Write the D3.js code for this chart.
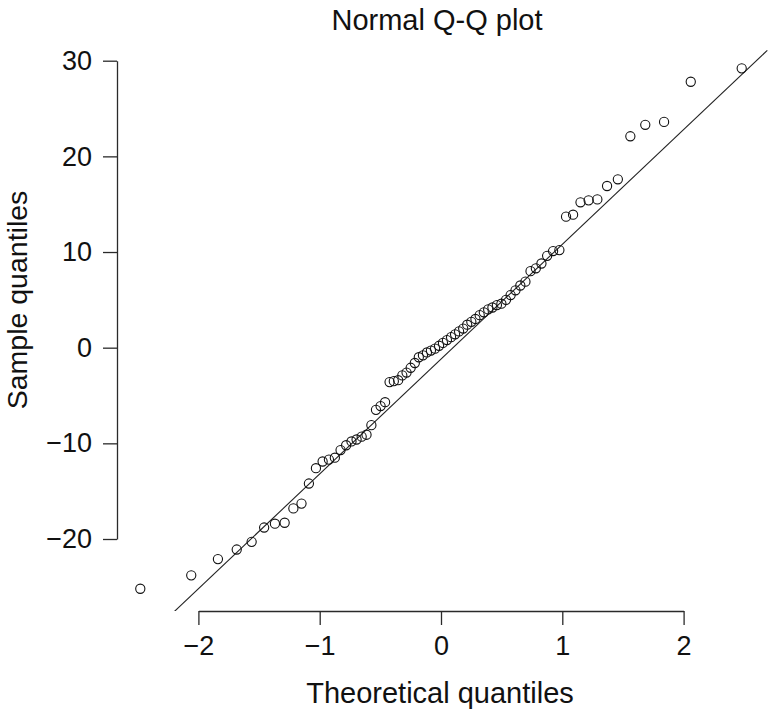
<!DOCTYPE html>
<html>
<head>
<meta charset="utf-8">
<script src="https://cdn.jsdelivr.net/npm/d3@7"></script>
<style>
  html, body { margin: 0; padding: 0; background: #fff; }
  svg { display: block; }
  text { font-family: "Liberation Sans", Arial, Helvetica, sans-serif; fill: #111; }
</style>
</head>
<body>
<svg id="chart" width="768" height="712"></svg>
<script>
// Theoretical quantiles (x) of the 76 plotted points
const theoreticalQuantiles = [
  -2.479, -2.059, -1.839, -1.684, -1.561, -1.458, -1.369, -1.289, -1.217, -1.150,
  -1.089, -1.031, -0.976, -0.924, -0.875, -0.828, -0.782, -0.738, -0.696, -0.654,
  -0.614, -0.574, -0.536, -0.498, -0.461, -0.424, -0.389, -0.353, -0.319, -0.284,
  -0.250, -0.216, -0.183, -0.149, -0.116, -0.083, -0.049, -0.016,
   0.016,  0.049,  0.083,  0.116,  0.149,  0.183,  0.216,  0.250,  0.284,  0.319,
   0.353,  0.389,  0.424,  0.461,  0.498,  0.536,  0.574,  0.614,  0.654,  0.696,
   0.738,  0.782,  0.828,  0.875,  0.924,  0.976,  1.031,  1.089,  1.150,  1.217,
   1.289,  1.369,  1.458,  1.561,  1.684,  1.839,  2.059,  2.479
];
// Sample quantiles (y)
const sampleQuantiles = [
  -25.2, -23.8, -22.1, -21.1, -20.3, -18.8, -18.4, -18.3, -16.8, -16.3,
  -14.2, -12.6, -11.9, -11.7, -11.5, -10.7, -10.2, -9.8, -9.6, -9.3,
  -9.1, -8.1, -6.5, -6.1, -5.7, -3.6, -3.5, -3.4, -2.9, -2.6,
  -2.1, -1.6, -1.0, -0.8, -0.5, -0.3, -0.1, 0.2,
  0.5, 0.8, 1.1, 1.4, 1.7, 2.0, 2.4, 2.7, 3.0, 3.4,
  3.7, 4.0, 4.2, 4.45, 4.6, 5.0, 5.5, 6.0, 6.5, 6.9,
  8.0, 8.3, 8.8, 9.6, 10.1, 10.2, 13.7, 13.9, 15.2, 15.4,
  15.5, 16.9, 17.6, 22.1, 23.3, 23.6, 27.8, 29.2
];
// Reference (qq) line: intercept, slope, and drawn x-extent in theoretical units
const qqLineIntercept = -1.2;
const qqLineSlope = 12.0;
const qqLineXExtent = [-2.25, 2.69];

const xTicks = [-2, -1, 0, 1, 2];
const yTicks = [-20, -10, 0, 10, 20, 30];

const title = "Normal Q-Q plot";
const xLabel = "Theoretical quantiles";
const yLabel = "Sample quantiles";

const svg = d3.select("#chart");
const W = 768, H = 712;
const axisY = 611, axisX = 117;

const x = d3.scaleLinear().domain([-2, 2]).range([198.4, 683.6]);
const y = d3.scaleLinear().domain([-20, 30]).range([539, 60.7]);

const fmt = d => d < 0 ? "\u2212" + Math.abs(d) : String(d);
const tickFont = 27;
const labelFont = 29;

// clip region (plot area)
svg.append("defs").append("clipPath").attr("id", "clip")
  .append("rect").attr("x", axisX).attr("y", 0).attr("width", W - axisX).attr("height", axisY);

// X axis
const xAxis = d3.axisBottom(x).tickValues(xTicks).tickFormat(fmt).tickSize(14).tickPadding(11).tickSizeOuter(0);
const gx = svg.append("g").attr("transform", `translate(0,${axisY})`).call(xAxis);
gx.select(".domain").attr("stroke", "#2a2a2a").attr("stroke-width", 1.3);
gx.selectAll(".tick line").attr("stroke", "#2a2a2a").attr("stroke-width", 1.3);
gx.selectAll(".tick text").attr("font-size", tickFont)
  .attr("font-family", "Liberation Sans, Arial, Helvetica, sans-serif").attr("fill", "#111");

// Y axis
const yAxis = d3.axisLeft(y).tickValues(yTicks).tickFormat(fmt).tickSize(14).tickPadding(11).tickSizeOuter(0);
const gy = svg.append("g").attr("transform", `translate(${axisX},0)`).call(yAxis);
gy.select(".domain").attr("stroke", "#2a2a2a").attr("stroke-width", 1.3);
gy.selectAll(".tick line").attr("stroke", "#2a2a2a").attr("stroke-width", 1.3);
gy.selectAll(".tick text").attr("font-size", tickFont)
  .attr("font-family", "Liberation Sans, Arial, Helvetica, sans-serif").attr("fill", "#111");

// QQ line
const lineData = qqLineXExtent.map(q => [q, qqLineIntercept + qqLineSlope * q]);
svg.append("path")
  .datum(lineData)
  .attr("clip-path", "url(#clip)")
  .attr("fill", "none")
  .attr("stroke", "#222")
  .attr("stroke-width", 1.1)
  .attr("d", d3.line().x(d => x(d[0])).y(d => y(d[1])));

// Points
const pts = theoreticalQuantiles.map((q, i) => ({q, s: sampleQuantiles[i]}));
svg.append("g").selectAll("circle")
  .data(pts)
  .join("circle")
  .attr("cx", d => x(d.q))
  .attr("cy", d => y(d.s))
  .attr("r", 4.6)
  .attr("fill", "none")
  .attr("stroke", "#111")
  .attr("stroke-width", 1.1);

// Title
svg.append("text")
  .attr("x", 437).attr("y", 30)
  .attr("text-anchor", "middle")
  .attr("font-size", labelFont)
  .text(title);

// X label
svg.append("text")
  .attr("x", 440).attr("y", 703)
  .attr("text-anchor", "middle")
  .attr("font-size", labelFont)
  .text(xLabel);

// Y label
svg.append("text")
  .attr("transform", "translate(27,300) rotate(-90)")
  .attr("text-anchor", "middle")
  .attr("font-size", 28.5)
  .text(yLabel);
</script>
</body>
</html>
